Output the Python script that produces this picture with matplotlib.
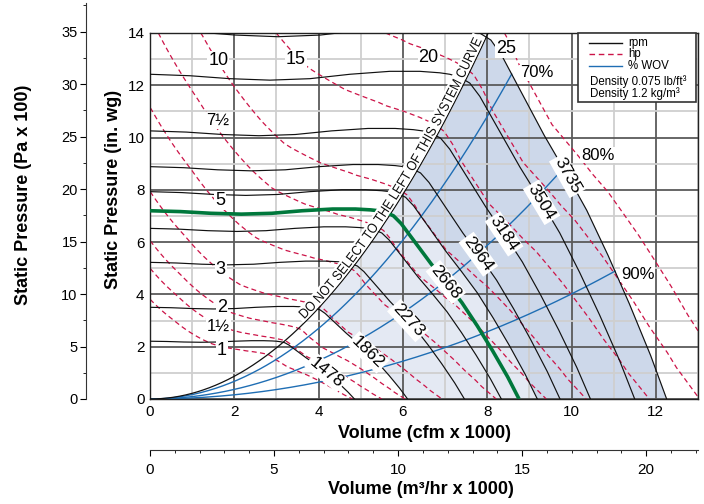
import numpy as np
import matplotlib
matplotlib.use("Agg")
import matplotlib.pyplot as plt
from matplotlib import font_manager
from matplotlib.patches import Rectangle, PathPatch
from matplotlib.lines import Line2D
from matplotlib.transforms import IdentityTransform, Affine2D
from matplotlib.textpath import TextPath

# ---------------- data ----------------
base_rpm = 1478
# fan curve at base rpm (kcfm, in. wg)
base_q = [0.0, 0.4, 0.8, 1.2, 1.6, 2.0, 2.4, 2.7, 2.9, 3.0, 3.1, 3.2, 3.3, 3.4,
          3.5, 3.6, 3.7, 3.9, 4.1, 4.3, 4.5, 4.7, 4.85]
base_p = [2.21, 2.20, 2.18, 2.17, 2.18, 2.21, 2.23, 2.23, 2.22, 2.21, 2.19, 2.15,
          2.06, 1.94, 1.82, 1.70, 1.58, 1.36, 1.13, 0.86, 0.57, 0.26, 0.0]
# brake horsepower at base rpm along the same curve
power_q = [0.0, 0.5, 1.0, 1.5, 2.0, 2.5, 3.0, 3.4, 3.7, 4.0, 4.2, 4.4, 4.6, 4.75, 4.85]
power_hp = [0.44, 0.63, 0.84, 1.05, 1.21, 1.33, 1.42, 1.47, 1.46, 1.38, 1.31, 1.24,
            1.17, 1.10, 1.03]

rpm_values = [1478, 1862, 2273, 2540, 2668, 2800, 2964, 3184, 3504, 3735]
rpm_labels = ['1478', '1862', '2273', '', '2668', '', '2964', '3184', '3504', '3735']
rpm_label_x = [4.18, 5.17, 6.12, 0, 7.02, 0, 7.79, 8.40, 9.29, 9.90]
selected_rpm = 2668
shade_low_rpm = 1862
shade_mid_rpm = 2800
shade_top_rpm = 3735

hp_levels = [1, 1.5, 2, 3, 5, 7.5, 10, 15, 20, 25]
hp_label_text = ['1', '1½', '2', '3', '5', '7½', '10', '15', '20', '25']
hp_label_x = [1.70, 1.62, 1.70, 1.68, 1.66, 1.60, 1.62, 3.46, 6.61, 8.45]
hp_label_y = [1.85, 2.79, 3.49, 4.97, 7.59, 10.65, 12.94, 13.00, 13.07, 13.42]

wov_pct = [70, 80, 90]
wov_label_x = [9.17, 10.62, 11.57]
wov_label_y = [12.48, 9.33, 4.78]

system_k = 0.2175
system_text = 'DO NOT SELECT TO THE LEFT OF THIS SYSTEM CURVE'
system_text_q = [3.70, 7.93]

x_ticks = list(range(0, 13, 2))
y_ticks = list(range(0, 15, 2))
pa_ticks = list(range(0, 40, 5))
m3_ticks = [0, 5, 10, 15, 20]
m3_per_kcfm = 1.699
pa100_per_inwg = 2.491
x_max, y_max = 13, 14

legend_labels = ['rpm', 'hp', '% WOV']
density_lines = ['Density 0.075 lb/ft³', 'Density 1.2 kg/m³']

# ---------------- style ----------------
names = {f.name for f in font_manager.fontManager.ttflist}
main_font = 'Liberation Sans' if 'Liberation Sans' in names else 'DejaVu Sans'
plt.rcParams['font.family'] = [main_font, 'DejaVu Sans']

C_HP = '#cc1448'
C_WOV = '#1f6eb4'
C_SEL = '#00783c'
C_LIGHT = '#e4e9f3'
C_DARK = '#cdd8ea'

W, H = 704, 504
fig = plt.figure(figsize=(W / 100, H / 100), dpi=100)


def fx(px):
    return px / W


def fy(py):
    return 1 - py / H


ax = fig.add_axes([fx(150), fy(399), (698 - 150) / W, (399 - 33) / H])
ax.set_xlim(0, x_max)
ax.set_ylim(0, y_max)

bq = np.array(base_q)
bp = np.array(base_p)
wq = np.array(power_q)
wh = np.array(power_hp)
drop = bq >= 2.7
q_drop, p_drop = bq[drop], bp[drop]


def fan_curve(rpm):
    r = rpm / base_rpm
    return bq * r, bp * r ** 2


def q_on_drop(rpm, P):
    r = rpm / base_rpm
    return r * np.interp(P / r ** 2, p_drop[::-1], q_drop[::-1], left=np.nan, right=np.nan)


# ---- shading ----
Ps = np.linspace(0, y_max, 900)
Qsys = np.sqrt(Ps / system_k)
Qlow = q_on_drop(shade_low_rpm, Ps)
Qmid = q_on_drop(shade_mid_rpm, Ps)
Qtop = q_on_drop(shade_top_rpm, Ps)
light_left = np.fmax(Qsys, np.nan_to_num(Qlow, nan=0))
light_right = np.where(np.isnan(Qmid), light_left, Qmid)
ax.fill_betweenx(Ps, light_left, light_right, where=light_right > light_left,
                 color=C_LIGHT, lw=0, zorder=0.2, interpolate=True)
dark_left = np.fmax(Qsys, np.nan_to_num(Qmid, nan=0))
dark_right = np.where(np.isnan(Qtop), dark_left, Qtop)
ax.fill_betweenx(Ps, dark_left, dark_right, where=dark_right > dark_left,
                 color=C_DARK, lw=0, zorder=0.2, interpolate=True)

# ---- grid ----
ax.set_xticks(x_ticks)
ax.set_xticks(range(0, x_max + 1), minor=True)
ax.set_yticks(y_ticks)
ax.set_yticks(range(0, y_max + 1), minor=True)
ax.set_axisbelow(True)
ax.grid(which='major', color='#5a5a5a', lw=1.3)
ax.grid(which='minor', color='#cfcfcf', lw=1.3)
ax.tick_params(which='both', direction='in', length=0, labelsize=11, pad=4)
for sp in ax.spines.values():
    sp.set_color('#222222')
    sp.set_linewidth(1.0)

# ---- hp lines (fan laws on the base power curve) ----
qd = np.linspace(0.005, 4.85, 3000)
kd = np.interp(qd, bq, bp) / qd ** 2
Qg, Pg = np.meshgrid(np.linspace(0, x_max, 500), np.linspace(0, y_max, 500))
kg = Pg / np.maximum(Qg ** 2, 1e-12)
qp = np.interp(kg, kd[::-1], qd[::-1])
p0 = np.interp(qp, bq, bp)
r_g = np.where(p0 > 0.02, np.sqrt(Pg / np.maximum(p0, 1e-9)), Qg / qp)
hp_g = r_g ** 3 * np.interp(qp, wq, wh)
cs = ax.contour(Qg, Pg, hp_g, levels=hp_levels, colors=C_HP, linewidths=0.9, zorder=2)
cs.set_linestyle((0, (4, 2.7)))

# ---- % WOV lines ----
r_top = shade_top_rpm / base_rpm
for pct in wov_pct:
    qw = pct / 100 * bq[-1]
    kw = np.interp(qw, bq, bp) / qw ** 2
    Ql = np.linspace(0, qw * r_top, 200)
    ax.plot(Ql, kw * Ql ** 2, color=C_WOV, lw=1.0, zorder=2.5)
for txt, lx, ly in zip(wov_pct, wov_label_x, wov_label_y):
    ax.text(lx, ly, f'{txt}%', ha='center', va='center', fontsize=12, zorder=7,
            bbox=dict(fc='white', ec='none', pad=0.5))

# ---- rpm curves ----
for rpm in rpm_values:
    Q, P = fan_curve(rpm)
    if rpm == selected_rpm:
        ax.plot(Q, P, color=C_SEL, lw=2.6, zorder=3.2, solid_capstyle='butt')
    else:
        ax.plot(Q, P, color='#111111', lw=0.85, zorder=3)

# ---- system curve ----
Qc = np.linspace(0, 8.1, 1500)
Pc = system_k * Qc ** 2
ax.plot(Qc, Pc, color='#111111', lw=0.9, zorder=3)

# ---- rpm labels ----
for rpm, lab, lx in zip(rpm_values, rpm_labels, rpm_label_x):
    if not lab:
        continue
    r = rpm / base_rpm
    ly = r ** 2 * np.interp(lx / r, bq, bp)
    pa_ = ax.transData.transform((lx - 0.15, r ** 2 * np.interp((lx - 0.15) / r, bq, bp)))
    pb_ = ax.transData.transform((lx + 0.15, r ** 2 * np.interp((lx + 0.15) / r, bq, bp)))
    ang = np.degrees(np.arctan2(pb_[1] - pa_[1], pb_[0] - pa_[0]))
    ax.text(lx, ly, lab, rotation=ang, rotation_mode='anchor', ha='center', va='center',
            fontsize=12.5, zorder=7, bbox=dict(fc='white', ec='none', pad=1.2))

# ---- hp labels ----
for t, lx, ly in zip(hp_label_text, hp_label_x, hp_label_y):
    small = '½' in t
    ax.text(lx, ly, t, ha='center', va='center', fontsize=12 if small else 13, zorder=7,
            bbox=dict(fc='white', ec='none', pad=0.6))

# ---- condensed text along the system curve ----
disp = ax.transData.transform(np.column_stack([Qc, Pc]))
seg = np.hypot(np.diff(disp[:, 0]), np.diff(disp[:, 1]))
s = np.concatenate([[0], np.cumsum(seg)])
s0 = np.interp(system_text_q[0], Qc, s)
s1 = np.interp(system_text_q[1], Qc, s)
renderer = fig.canvas.get_renderer()
fs_txt = 10.0
fp_txt = font_manager.FontProperties(family=main_font, size=fs_txt)
bar = renderer.get_text_width_height_descent('||', fp_txt, ismath=False)[0]
adv = np.array([renderer.get_text_width_height_descent('|' + c + '|', fp_txt, ismath=False)[0] - bar
                for c in system_text])
sx_scale = (s1 - s0) / adv.sum()
adv_s = adv * sx_scale
centers = s0 + np.cumsum(adv_s) - adv_s / 2
gx = np.gradient(disp[:, 0])
gy = np.gradient(disp[:, 1])
off = 2.5
fs_px = fs_txt * 100 / 72
cap = fs_px * 0.72
ss = np.linspace(s0 - 3, s1 + 3, 300)
sxp = np.interp(ss, s, disp[:, 0])
syp = np.interp(ss, s, disp[:, 1])
stx = np.interp(ss, s, gx)
sty = np.interp(ss, s, gy)
sn = np.hypot(stx, sty)
stx, sty = stx / sn, sty / sn
d = off + cap / 2
ax.plot(sxp - sty * d, syp + stx * d, transform=IdentityTransform(), color='white',
        lw=(cap + 3.5) * 0.72, solid_capstyle='butt', zorder=5)
for ch, c, a in zip(system_text, centers, adv):
    if ch == ' ':
        continue
    x0 = np.interp(c, s, disp[:, 0])
    y0 = np.interp(c, s, disp[:, 1])
    tx = np.interp(c, s, gx)
    ty = np.interp(c, s, gy)
    n = np.hypot(tx, ty)
    tx, ty = tx / n, ty / n
    ang = np.degrees(np.arctan2(ty, tx))
    tp = TextPath((0, 0), ch, size=fs_px, prop=fp_txt)
    tr = (Affine2D().translate(-a / 2, 0).scale(sx_scale, 1.0).rotate_deg(ang)
          .translate(x0 - ty * off, y0 + tx * off))
    fig.add_artist(PathPatch(tp, transform=tr, facecolor='#111111', lw=0, zorder=6))

# ---- Pa axis ----
ax_pa = fig.add_axes([fx(86), fy(399), 0.0005, (399 - 3) / H])
ax_pa.set_ylim(0, y_max * pa100_per_inwg * (399 - 3) / (399 - 33))
for sp in ['top', 'right', 'bottom']:
    ax_pa.spines[sp].set_visible(False)
ax_pa.spines['left'].set_color('#333333')
ax_pa.set_xticks([])
ax_pa.set_yticks(pa_ticks)
ax_pa.set_yticks(np.arange(0, 37.6, 2.5), minor=True)
ax_pa.tick_params(axis='y', which='major', direction='out', length=4, pad=2, labelsize=10.5)
ax_pa.tick_params(axis='y', which='minor', direction='out', length=2)
ax_pa.patch.set_visible(False)

# ---- m3/hr axis ----
ax_m3 = fig.add_axes([fx(150), fy(450), (698 - 150) / W, 0.0005])
ax_m3.set_xlim(0, x_max * m3_per_kcfm)
for sp in ['top', 'right', 'left']:
    ax_m3.spines[sp].set_visible(False)
ax_m3.spines['bottom'].set_color('#333333')
ax_m3.set_yticks([])
ax_m3.set_xticks(m3_ticks)
ax_m3.set_xticks(np.arange(0, 23, 1), minor=True)
ax_m3.tick_params(axis='x', which='major', direction='out', length=4, pad=5, labelsize=11)
ax_m3.tick_params(axis='x', which='minor', direction='out', length=2)
ax_m3.patch.set_visible(False)

# ---- titles ----
fig.text(fx(425), fy(433), 'Volume (cfm x 1000)', ha='center', va='center', fontsize=13, weight='bold')
fig.text(fx(421), fy(490), 'Volume (m³/hr x 1000)', ha='center', va='center', fontsize=13, weight='bold')
fig.text(fx(113), fy(189), 'Static Pressure (in. wg)', ha='center', va='center', rotation=90,
         fontsize=13, weight='bold')
fig.text(fx(24), fy(195), 'Static Pressure (Pa x 100)', ha='center', va='center', rotation=90,
         fontsize=13, weight='bold')

# ---- legend box ----
fig.add_artist(Rectangle((fx(578), fy(102)), (696 - 578) / W, (102 - 33) / H,
                         transform=fig.transFigure, facecolor='white', edgecolor='#333333',
                         lw=1.2, zorder=10))
leg_styles = [dict(color='#111111', lw=1.0), dict(color=C_HP, lw=1.0, ls=(0, (4, 2.7))),
              dict(color=C_WOV, lw=1.0)]
for i, (lab, st) in enumerate(zip(legend_labels, leg_styles)):
    yy = 42.7 + i * 11.5
    fig.add_artist(Line2D([fx(589), fx(622)], [fy(yy), fy(yy)], transform=fig.transFigure,
                          zorder=11, **st))
    fig.text(fx(628), fy(yy), lab, ha='left', va='center', fontsize=8.3, zorder=12)
for i, t in enumerate(density_lines):
    fig.text(fx(589.5), fy(81.5 + i * 12.5), t, ha='left', va='center', fontsize=8.3, zorder=12)

fig.savefig('out.png', dpi=100)
